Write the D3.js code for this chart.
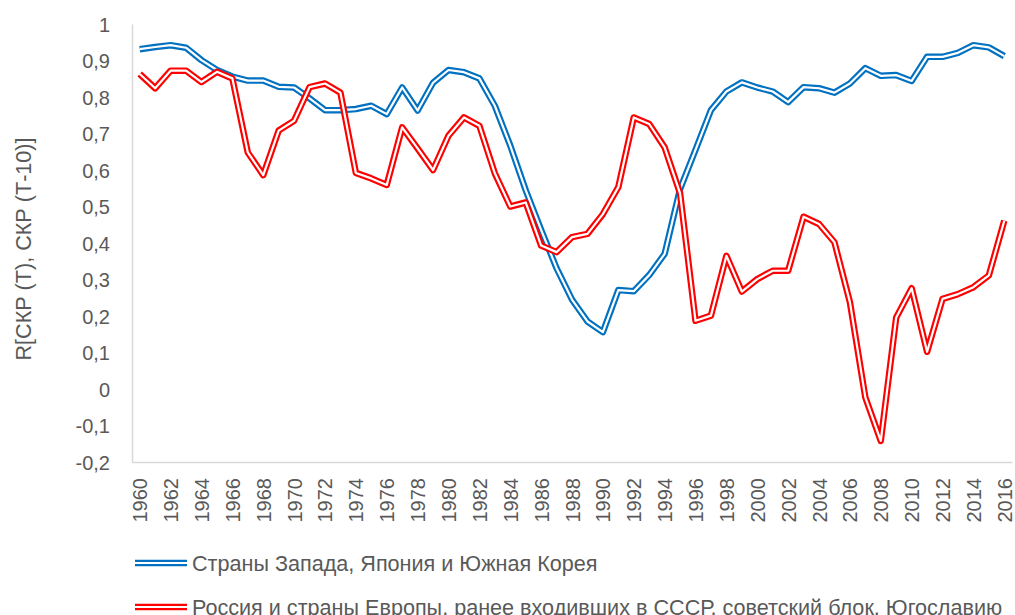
<!DOCTYPE html>
<html>
<head>
  <meta charset="utf-8">
  <script src="https://d3js.org/d3.v7.min.js"></script>
  <style>
    body { margin: 0; background: #fff; }
    svg { display: block; font-family: "Liberation Sans", Arial, sans-serif; }
    .axis text { font-size: 20px; fill: #595959; }
    .axis path { stroke: #d9d9d9; stroke-width: 1.5px; }
    .axis line { display: none; }
    .legend text, .title { font-size: 21.6px; fill: #595959; }
  </style>
</head>
<body>
  <script>
    // years on the category axis
    var years = [1960, 1961, 1962, 1963, 1964, 1965, 1966, 1967, 1968, 1969,
                 1970, 1971, 1972, 1973, 1974, 1975, 1976, 1977, 1978, 1979,
                 1980, 1981, 1982, 1983, 1984, 1985, 1986, 1987, 1988, 1989,
                 1990, 1991, 1992, 1993, 1994, 1995, 1996, 1997, 1998, 1999,
                 2000, 2001, 2002, 2003, 2004, 2005, 2006, 2007, 2008, 2009,
                 2010, 2011, 2012, 2013, 2014, 2015, 2016];

    // Страны Запада, Япония и Южная Корея
    var west = [0.931, 0.937, 0.942, 0.935, 0.901, 0.874, 0.856, 0.845, 0.845, 0.828,
                0.826, 0.796, 0.764, 0.764, 0.767, 0.776, 0.753, 0.826, 0.763, 0.839,
                0.874, 0.868, 0.851, 0.776, 0.667, 0.545, 0.436, 0.331, 0.245, 0.185,
                0.156, 0.271, 0.268, 0.312, 0.370, 0.548, 0.655, 0.764, 0.815, 0.840,
                0.826, 0.815, 0.786, 0.827, 0.824, 0.812, 0.837, 0.879, 0.858, 0.860,
                0.844, 0.910, 0.910, 0.921, 0.942, 0.936, 0.912];

    // Россия и страны Европы, ранее входившие в СССР, советский блок, Югославию
    var east = [0.863, 0.824, 0.872, 0.872, 0.841, 0.869, 0.851, 0.648, 0.586, 0.708,
                0.735, 0.827, 0.837, 0.812, 0.592, 0.577, 0.559, 0.717, 0.659, 0.600,
                0.694, 0.744, 0.721, 0.591, 0.500, 0.511, 0.393, 0.375, 0.416, 0.425,
                0.479, 0.553, 0.744, 0.726, 0.662, 0.536, 0.187, 0.201, 0.365, 0.267,
                0.301, 0.324, 0.324, 0.472, 0.452, 0.402, 0.238, -0.023, -0.142, 0.196,
                0.276, 0.102, 0.247, 0.260, 0.279, 0.311, 0.461];

    var yTicks = [-0.2, -0.1, 0, 0.1, 0.2, 0.3, 0.4, 0.5, 0.6, 0.7, 0.8, 0.9, 1];
    var xTicks = years.filter(function(d, i) { return i % 2 === 0; });

    var seriesNames = ["Страны Запада, Япония и Южная Корея",
                       "Россия и страны Европы, ранее входивших в СССР, советский блок, Югославию"];
    var seriesColors = ["#0070c0", "#ff0000"];
    var yTitle = "R[СКР (Т), СКР (Т-10)]";

    var width = 1015, height = 615;
    // plot box (note: "top" is reserved on window, so use other names)
    var plotLeft = 132, plotRight = 1012, plotTop = 24, plotBottom = 462;

    var svg = d3.select("body").append("svg")
        .attr("width", width)
        .attr("height", height);

    var x = d3.scalePoint()
        .domain(years)
        .range([plotLeft, plotRight])
        .padding(0.5);
    var y = d3.scaleLinear()
        .domain([-0.2, 1])
        .range([plotBottom, plotTop]);

    var fmt = function(d) { return String(+d.toFixed(1)).replace(".", ","); };

    var yAxis = d3.axisLeft(y)
        .tickValues(yTicks)
        .tickFormat(fmt)
        .tickSize(0)
        .tickPadding(22);
    var xAxis = d3.axisBottom(x)
        .tickValues(xTicks)
        .tickSize(0);

    svg.append("g")
        .attr("class", "y axis")
        .attr("transform", "translate(" + plotLeft + ",0)")
        .call(yAxis)
        .selectAll("text")
        .attr("dy", "0.35em");

    svg.append("g")
        .attr("class", "x axis")
        .attr("transform", "translate(0," + plotBottom + ")")
        .call(xAxis)
        .selectAll("text")
        .attr("transform", "rotate(-90)")
        .attr("text-anchor", "end")
        .attr("x", -16)
        .attr("y", 0)
        .attr("dy", "0.35em");

    // y axis title
    svg.append("text")
        .attr("class", "title")
        .attr("transform", "translate(23,249) rotate(-90)")
        .attr("text-anchor", "middle")
        .attr("dy", "0.35em")
        .text(yTitle);

    // double lines: coloured stroke with a thin white line on top
    var line = d3.line()
        .x(function(d, i) { return x(years[i]); })
        .y(function(d) { return y(d); });

    [west, east].forEach(function(values, k) {
      svg.append("path")
          .datum(values)
          .attr("d", line)
          .attr("fill", "none")
          .attr("stroke", seriesColors[k])
          .attr("stroke-width", 6.5)
          .attr("stroke-linejoin", "round");
      svg.append("path")
          .datum(values)
          .attr("d", line)
          .attr("fill", "none")
          .attr("stroke", "#fff")
          .attr("stroke-width", 2.2)
          .attr("stroke-linejoin", "round");
    });

    // legend
    var legend = svg.append("g").attr("class", "legend");
    var legendY = [563, 607];
    seriesNames.forEach(function(name, k) {
      var g = legend.append("g").attr("transform", "translate(135," + legendY[k] + ")");
      g.append("line")
          .attr("x1", 0).attr("x2", 52)
          .attr("stroke", seriesColors[k])
          .attr("stroke-width", 6.5);
      g.append("line")
          .attr("x1", 0).attr("x2", 52)
          .attr("stroke", "#fff")
          .attr("stroke-width", 2.2);
      g.append("text")
          .attr("x", 57)
          .attr("dy", "0.35em")
          .text(name);
    });
  </script>
</body>
</html>
